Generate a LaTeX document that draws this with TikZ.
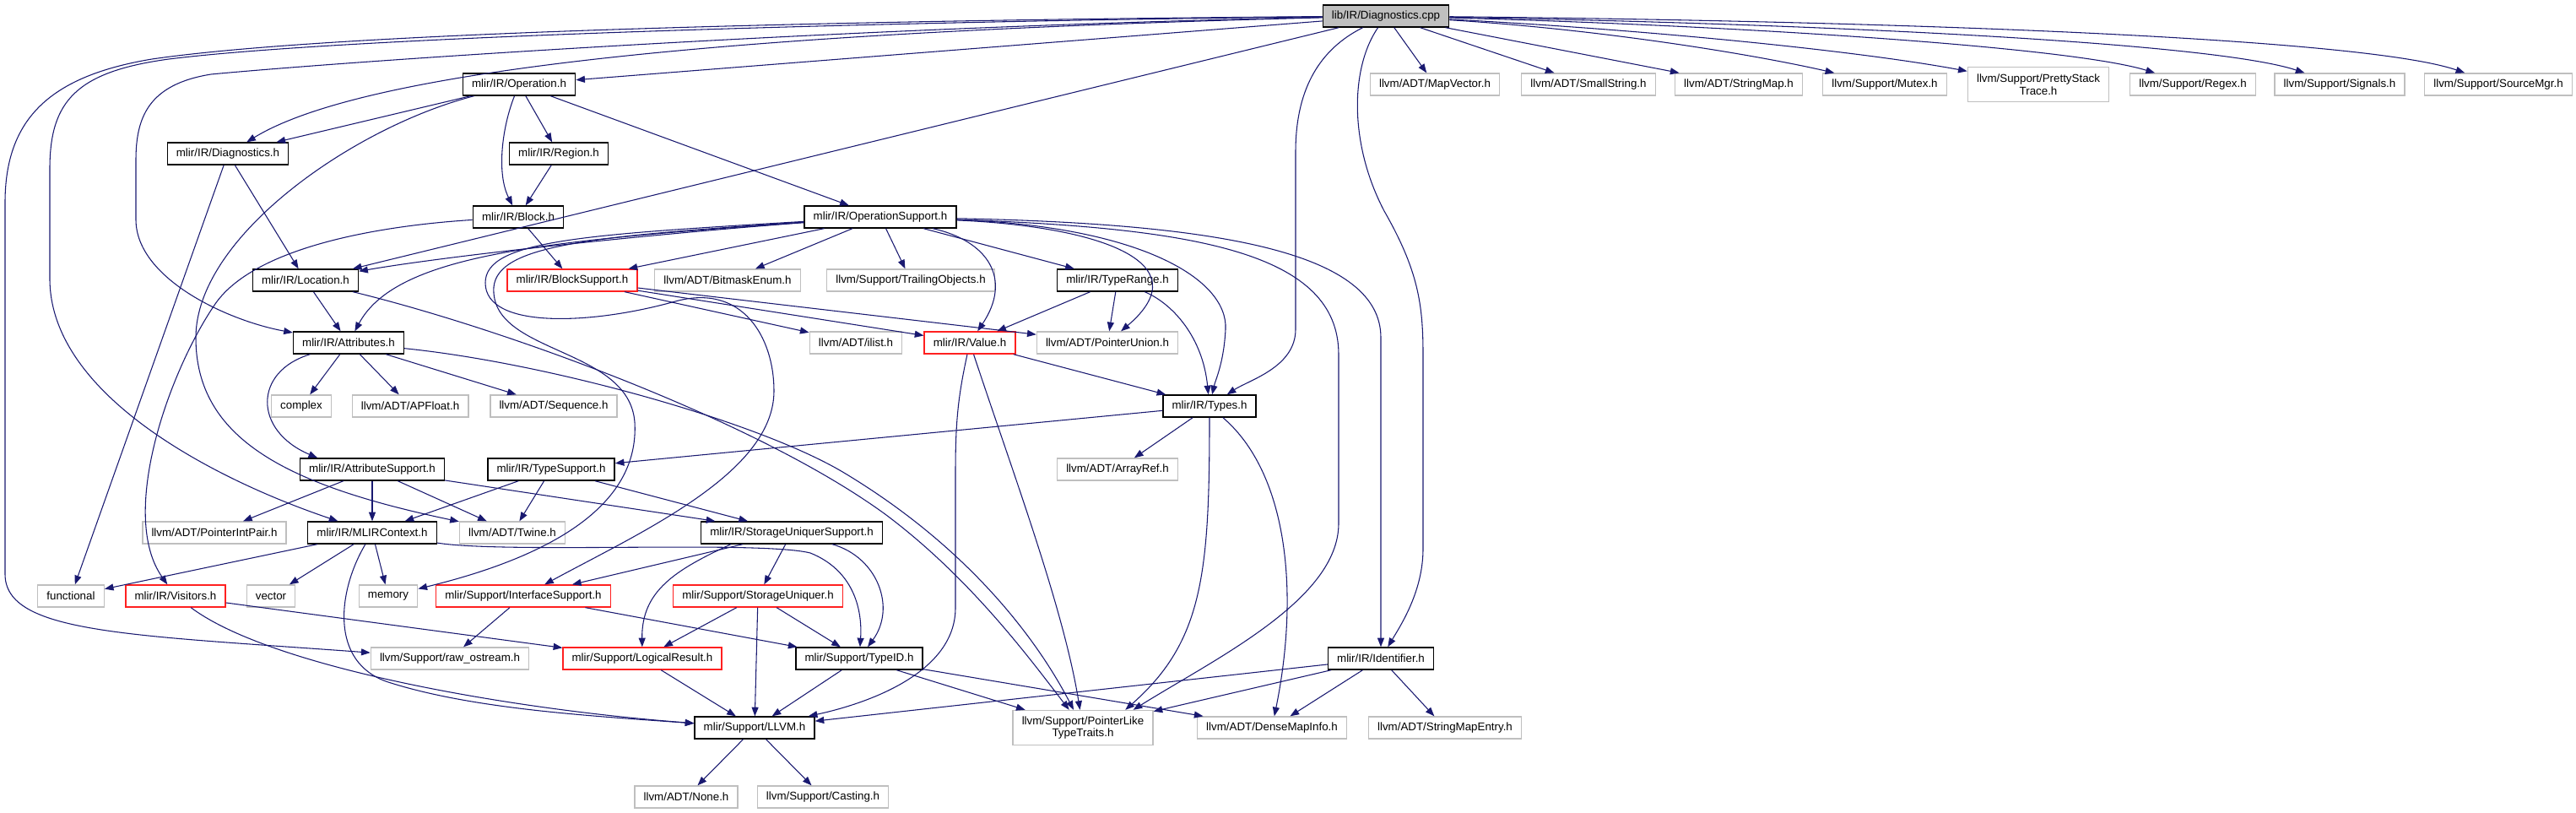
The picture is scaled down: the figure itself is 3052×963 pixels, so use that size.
\documentclass[tikz,border=0pt]{standalone}
\usepackage{fontspec}
\setmainfont{Liberation Sans}
\usetikzlibrary{arrows.meta}
\definecolor{edgec}{HTML}{191970}
\definecolor{grayb}{HTML}{BFBFBF}
\definecolor{redb}{HTML}{FF2020}
\begin{document}
\begin{tikzpicture}[x=0.75pt,y=-0.75pt,
  nb/.style={draw, rectangle, inner xsep=8pt, inner ysep=2pt, minimum height=19.5pt, align=center, fill=white, font=\fontsize{10}{11}\selectfont},
  blk/.style={nb, draw=black, line width=1pt},
  gry/.style={nb, draw=grayb, line width=1pt},
  rdb/.style={nb, draw=redb, line width=1pt},
  rootb/.style={nb, draw=black, fill=grayb, line width=1pt},
  twol/.style={minimum height=30.75pt},
  e/.style={draw=edgec, line width=0.8pt, -{Triangle[length=8pt,width=6pt]}}]
\useasboundingbox (0,0) rectangle (3052,963);
% nodes
\node[rootb] (root) at (1642,19) {lib/IR/Diagnostics.cpp};
\node[blk] (op) at (615,100) {mlir/IR/Operation.h};
\node[gry] (mapvec) at (1700,100) {llvm/ADT/MapVector.h};
\node[gry] (smallstr) at (1882,100) {llvm/ADT/SmallString.h};
\node[gry] (strmap) at (2060,100) {llvm/ADT/StringMap.h};
\node[gry] (mutex) at (2233,100) {llvm/Support/Mutex.h};
\node[gry,twol] (pretty) at (2415,100) {llvm/Support/PrettyStack\\Trace.h};
\node[gry] (regex) at (2598,100) {llvm/Support/Regex.h};
\node[gry] (signals) at (2772,100) {llvm/Support/Signals.h};
\node[gry] (srcmgr) at (2960,100) {llvm/Support/SourceMgr.h};
\node[blk] (diag) at (270,182) {mlir/IR/Diagnostics.h};
\node[blk] (region) at (662,182) {mlir/IR/Region.h};
\node[blk] (block) at (614,257) {mlir/IR/Block.h};
\node[blk] (opsup) at (1043,257) {mlir/IR/OperationSupport.h};
\node[blk] (loc) at (362,332) {mlir/IR/Location.h};
\node[rdb] (blocksup) at (678,332) {mlir/IR/BlockSupport.h};
\node[gry] (bitmask) at (862,332) {llvm/ADT/BitmaskEnum.h};
\node[gry] (trailing) at (1079,332) {llvm/Support/TrailingObjects.h};
\node[blk] (typerange) at (1324,332) {mlir/IR/TypeRange.h};
\node[blk] (attr) at (413,406) {mlir/IR/Attributes.h};
\node[gry] (ilist) at (1014,406) {llvm/ADT/ilist.h};
\node[rdb] (value) at (1149,406) {mlir/IR/Value.h};
\node[gry] (ptrunion) at (1312,406) {llvm/ADT/PointerUnion.h};
\node[gry] (complex) at (357,481) {complex};
\node[gry] (apfloat) at (486,481) {llvm/ADT/APFloat.h};
\node[gry] (sequence) at (656,481) {llvm/ADT/Sequence.h};
\node[blk] (types) at (1433,481) {mlir/IR/Types.h};
\node[blk] (attrsup) at (441,556) {mlir/IR/AttributeSupport.h};
\node[blk] (typesup) at (653,556) {mlir/IR/TypeSupport.h};
\node[gry] (arrayref) at (1324,556) {llvm/ADT/ArrayRef.h};
\node[gry] (ptrintpair) at (254,631) {llvm/ADT/PointerIntPair.h};
\node[blk] (ctx) at (441,631) {mlir/IR/MLIRContext.h};
\node[gry] (twine) at (607,631) {llvm/ADT/Twine.h};
\node[blk] (susupport) at (938,631) {mlir/IR/StorageUniquerSupport.h};
\node[gry] (functional) at (84,706) {functional};
\node[rdb] (visitors) at (208,706) {mlir/IR/Visitors.h};
\node[gry] (vector) at (321,706) {vector};
\node[gry] (memory) at (460,706) {memory};
\node[rdb] (iface) at (620,706) {mlir/Support/InterfaceSupport.h};
\node[rdb] (suniquer) at (898,706) {mlir/Support/StorageUniquer.h};
\node[gry] (rawos) at (533,780) {llvm/Support/raw\_ostream.h};
\node[rdb] (logical) at (761,780) {mlir/Support/LogicalResult.h};
\node[blk] (typeid) at (1018,780) {mlir/Support/TypeID.h};
\node[blk] (ident) at (1636,780) {mlir/IR/Identifier.h};
\node[blk] (llvm) at (894,862) {mlir/Support/LLVM.h};
\node[gry,twol] (ptrlike) at (1283,862) {llvm/Support/PointerLike\\TypeTraits.h};
\node[gry] (densemap) at (1507,862) {llvm/ADT/DenseMapInfo.h};
\node[gry] (smentry) at (1712,862) {llvm/ADT/StringMapEntry.h};
\node[gry] (none) at (813,944) {llvm/ADT/None.h};
\node[gry] (casting) at (975,944) {llvm/Support/Casting.h};
% root edges
\draw[e] (root) -- (op);
\draw[e] (root) .. controls (800,40) and (420,90) .. (diag);
\draw[e] (root) .. controls (1000,32) and (420,72) .. (250,88) .. controls (175,100) and (161,140) .. (161,190) -- (161,260) .. controls (161,330) and (270,380) .. (attr);
\draw[e] (root) -- (loc);
\draw[e] (root) .. controls (1000,26) and (400,45) .. (200,70) .. controls (90,85) and (59,120) .. (59,200) -- (59,330) .. controls (59,470) and (260,570) .. (ctx);
\draw[e] (root) .. controls (1000,24) and (400,38) .. (180,70) .. controls (60,90) and (6,140) .. (6,240) -- (6,680) .. controls (6,750) and (150,752) .. (rawos);
\draw[e] (root) .. controls (1560,60) and (1535,110) .. (1535,180) -- (1535,390) .. controls (1535,435) and (1480,450) .. (types);
\draw[e] (root) .. controls (1600,80) and (1598,170) .. (1640,250) .. controls (1680,320) and (1686,360) .. (1686,420) -- (1686,650) .. controls (1686,700) and (1660,740) .. (ident);
\draw[e] (root) -- (mapvec);
\draw[e] (root) -- (smallstr);
\draw[e] (root) -- (strmap);
\draw[e] (root) .. controls (1900,35) and (2080,65) .. (mutex);
\draw[e] (root) .. controls (1950,35) and (2200,60) .. (pretty);
\draw[e] (root) .. controls (2050,30) and (2450,55) .. (regex);
\draw[e] (root) .. controls (2150,28) and (2620,50) .. (signals);
\draw[e] (root) .. controls (2250,25) and (2800,45) .. (srcmgr);
% Operation.h
\draw[e] (op) -- (diag);
\draw[e] (op) -- (region);
\draw[e] (op) .. controls (595,150) and (588,205) .. (block);
\draw[e] (op) -- (opsup);
\draw[e] (op) .. controls (420,150) and (232,280) .. (232,400) .. controls (232,520) and (340,575) .. (twine);
% Diagnostics.h, Region.h, Block.h
\draw[e] (diag) -- (loc);
\draw[e] (diag) -- (functional);
\draw[e] (region) -- (block);
\draw[e] (block) -- (blocksup);
\draw[e] (block) .. controls (440,268) and (300,295) .. (255,360) .. controls (200,440) and (140,610) .. (visitors);
% OperationSupport.h
\draw[e] (opsup) .. controls (800,275) and (550,300) .. (loc);
\draw[e] (opsup) .. controls (650,285) and (470,300) .. (attr);
\draw[e] (opsup) -- (blocksup);
\draw[e] (opsup) -- (bitmask);
\draw[e] (opsup) -- (trailing);
\draw[e] (opsup) -- (typerange);
\draw[e] (opsup) .. controls (1170,285) and (1200,330) .. (value);
\draw[e] (opsup) .. controls (1300,268) and (1425,310) .. (ptrunion);
\draw[e] (opsup) .. controls (1350,268) and (1455,330) .. (1452,390) .. controls (1450,430) and (1440,450) .. (types);
\draw[e] (opsup) .. controls (1420,270) and (1586,300) .. (1586,420) -- (1586,620) .. controls (1586,710) and (1440,780) .. ([xshift=-18pt]ptrlike.north east);
\draw[e] (opsup) .. controls (1450,265) and (1636,300) .. (1636,400) -- (ident);
\draw[e] (opsup) .. controls (700,280) and (590,290) .. (585,340) .. controls (580,420) and (745,410) .. (752,500) .. controls (758,600) and (650,660) .. (memory);
\draw[e] (opsup) .. controls (690,278) and (575,285) .. (575,335) .. controls (575,390) and (700,385) .. (800,357) .. controls (880,335) and (917,400) .. (917,463) .. controls (917,560) and (760,630) .. (iface);
% BlockSupport.h, TypeRange.h
\draw[e] (blocksup) -- (ilist);
\draw[e] (blocksup) -- (value);
\draw[e] (blocksup) -- (ptrunion);
\draw[e] (typerange) -- (value);
\draw[e] (typerange) -- (ptrunion);
\draw[e] (typerange) .. controls (1390,360) and (1425,400) .. (types);
% Value.h
\draw[e] (value) -- (types);
\draw[e] (value) .. controls (1135,470) and (1132,500) .. (1132,560) -- (1132,720) .. controls (1132,800) and (1020,835) .. (llvm);
\draw[e] (value) .. controls (1200,560) and (1260,720) .. (ptrlike);
% Types.h
\draw[e] (types) -- (typesup);
\draw[e] (types) -- (arrayref);
\draw[e] (types) .. controls (1433,680) and (1425,760) .. ([xshift=-25pt]ptrlike.north east);
\draw[e] (types) .. controls (1525,560) and (1540,700) .. (densemap);
% TypeSupport.h
\draw[e] (typesup) -- (ctx);
\draw[e] (typesup) -- (twine);
\draw[e] (typesup) -- (susupport);
% Attributes.h, Location.h
\draw[e] (attr) -- (complex);
\draw[e] (attr) -- (apfloat);
\draw[e] (attr) -- (sequence);
\draw[e] (attr) .. controls (300,440) and (300,510) .. ([xshift=16pt]attrsup.north west);
\draw[e] (attr) .. controls (650,430) and (900,500) .. (1000,560) .. controls (1150,650) and (1230,760) .. (ptrlike);
\draw[e] (loc) -- (attr);
\draw[e] (loc) .. controls (600,390) and (900,500) .. (1050,610) .. controls (1150,685) and (1220,780) .. (ptrlike);
% AttributeSupport.h
\draw[e] (attrsup) -- (ptrintpair);
\draw[e] (attrsup) -- (ctx);
\draw[e] (attrsup) -- (twine);
\draw[e] (attrsup) -- (susupport);
% MLIRContext.h
\draw[e] (ctx) -- (functional);
\draw[e] (ctx) -- (vector);
\draw[e] (ctx) -- (memory);
\draw[e] (ctx) .. controls (400,700) and (390,785) .. (460,808) .. controls (560,840) and (700,848) .. (llvm);
\draw[e] (ctx) .. controls (600,656) and (900,640) .. (960,655) .. controls (1010,675) and (1022,720) .. (typeid);
% StorageUniquerSupport.h
\draw[e] (susupport) -- (iface);
\draw[e] (susupport) -- (suniquer);
\draw[e] ([xshift=-54pt]susupport.south) .. controls (800,675) and (760,700) .. (logical);
\draw[e] (susupport) .. controls (1040,660) and (1062,720) .. (typeid);
% InterfaceSupport.h, StorageUniquer.h, Visitors.h
\draw[e] (iface) -- (rawos);
\draw[e] (iface) -- (typeid);
\draw[e] (suniquer) -- (logical);
\draw[e] (suniquer) -- (llvm);
\draw[e] (suniquer) -- (typeid);
\draw[e] (visitors) -- (logical);
\draw[e] (visitors) .. controls (320,790) and (600,840) .. (llvm);
% LogicalResult.h, TypeID.h, Identifier.h, LLVM.h
\draw[e] (logical) -- (llvm);
\draw[e] (typeid) -- (llvm);
\draw[e] (typeid) -- (ptrlike);
\draw[e] (typeid) -- (densemap);
\draw[e] (ident) -- (llvm);
\draw[e] (ident) -- (ptrlike);
\draw[e] (ident) -- (densemap);
\draw[e] (ident) -- (smentry);
\draw[e] (llvm) -- (none);
\draw[e] (llvm) -- (casting);
\end{tikzpicture}
\end{document}
